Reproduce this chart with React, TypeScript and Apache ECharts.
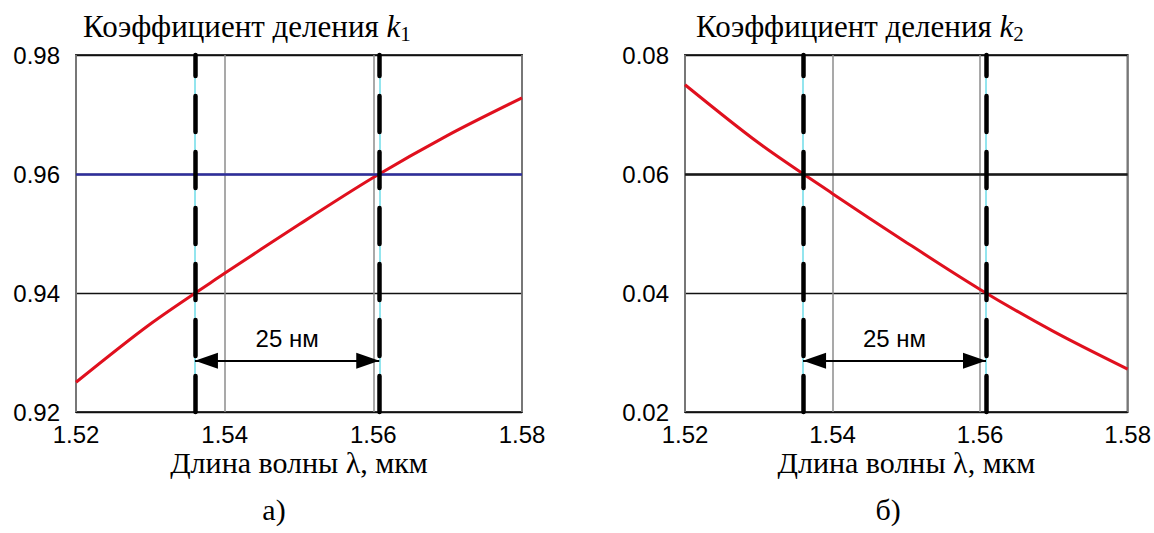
import React, { useEffect, useRef } from 'react';
import * as echarts from 'echarts';

// Wavelength grid (µm) and the two splitting coefficients
const wavelength = [1.52, 1.53, 1.54, 1.55, 1.56, 1.57, 1.58];
const k1Values = [0.925, 0.9348, 0.9433, 0.9515, 0.9594, 0.9665, 0.9728];
const k2Values = [0.075, 0.0652, 0.0567, 0.0485, 0.0406, 0.0335, 0.0272];

// Tick labels of the axes
const xTickLabels = ['1.52', '1.54', '1.56', '1.58'];
const k1TickLabels = ['0.92', '0.94', '0.96', '0.98'];
const k2TickLabels = ['0.02', '0.04', '0.06', '0.08'];

// Edges of the 25 nm working band and the highlighted levels
const bandEdges = [1.536, 1.5608];
const highlightLevels = [0.96, 0.06];
const spanArrowLevels = [0.9286, 0.0286];
const spanLabel = '25 нм';

const titles = ['1', '2'];
const panelTags = ['а)', 'б)'];
const xAxisName = 'Длина волны λ, мкм';

const SANS = "'Liberation Sans', Arial, sans-serif";
const SERIF = "'Liberation Serif', 'Times New Roman', serif";

const num = (s: string) => Number(s);
const step = (t: string[]) => Number((num(t[1]) - num(t[0])).toFixed(6));

function buildOption() {
  const gridLefts = [76, 685];
  const gridTop = 55;
  const gridW = 446;
  const gridH = 357;
  const yTicks = [k1TickLabels, k2TickLabels];
  const values = [k1Values, k2Values];
  const highlightColors = ['#2e2e9c', '#1a1a1a'];

  const grid = gridLefts.map((left) => ({
    left,
    top: gridTop,
    width: gridW,
    height: gridH,
    show: true,
    borderColor: '#3a3a3a',
    borderWidth: 2,
    backgroundColor: 'transparent',
  }));

  const xAxis = gridLefts.map((_, i) => ({
    type: 'value',
    gridIndex: i,
    min: num(xTickLabels[0]),
    max: num(xTickLabels[xTickLabels.length - 1]),
    interval: step(xTickLabels),
    axisLine: { show: false },
    axisTick: { show: false },
    axisLabel: {
      color: '#000',
      fontFamily: SANS,
      fontSize: 24,
      lineHeight: 24,
      margin: 10,
      formatter: (v: number) => v.toFixed(2),
    },
    splitLine: { show: true, lineStyle: { color: '#8c8c8c', width: 1.5 } },
    name: xAxisName,
    nameLocation: 'middle',
    nameGap: 35,
    nameMoveOverlap: false,
    nameTextStyle: { color: '#000', fontFamily: SERIF, fontSize: 30, lineHeight: 30 },
  }));

  const yAxis = gridLefts.map((_, i) => ({
    type: 'value',
    gridIndex: i,
    min: num(yTicks[i][0]),
    max: num(yTicks[i][yTicks[i].length - 1]),
    interval: step(yTicks[i]),
    axisLine: { show: false },
    axisTick: { show: false },
    axisLabel: {
      color: '#000',
      fontFamily: SANS,
      fontSize: 24,
      margin: 16,
      formatter: (v: number) => v.toFixed(2),
    },
    splitLine: { show: true, lineStyle: { color: '#111', width: 1.3 } },
  }));

  const series: any[] = [];
  gridLefts.forEach((_, i) => {
    const axes = { xAxisIndex: i, yAxisIndex: i };
    const yMin = num(yTicks[i][0]);
    const yMax = num(yTicks[i][yTicks[i].length - 1]);
    const verticals = bandEdges.map((x) => [{ coord: [x, yMin] }, { coord: [x, yMax] }]);
    // thin cyan markers of the band edges
    series.push({
      type: 'line',
      ...axes,
      data: [],
      z: 2,
      markLine: {
        silent: true,
        symbol: 'none',
        label: { show: false },
        lineStyle: { color: '#6fdde8', width: 1.5, type: 'solid' },
        data: verticals,
      },
    });
    // highlighted target level
    series.push({
      type: 'line',
      ...axes,
      data: [],
      z: 3,
      markLine: {
        silent: true,
        symbol: 'none',
        label: { show: false },
        lineStyle: { color: highlightColors[i], width: 2.5, type: 'solid' },
        data: [{ yAxis: highlightLevels[i] }],
      },
    });
    // splitting coefficient curve
    series.push({
      type: 'line',
      ...axes,
      z: 4,
      smooth: 0.3,
      showSymbol: false,
      lineStyle: { color: '#e0101e', width: 3 },
      data: wavelength.map((x, j) => [x, values[i][j]]),
    });
    // thick dashed band boundaries
    series.push({
      type: 'line',
      ...axes,
      data: [],
      z: 5,
      markLine: {
        silent: true,
        symbol: 'none',
        label: { show: false },
        lineStyle: { color: '#000', width: 4.5, type: [36, 20], cap: 'round' },
        data: verticals,
      },
    });
    // double-headed span arrow with its label
    series.push({
      type: 'line',
      ...axes,
      data: [],
      z: 6,
      markLine: {
        silent: true,
        symbol: ['triangle', 'triangle'],
        symbolSize: [16, 23],
        symbolOffset: [[0, 11.5], [0, 11.5]],
        lineStyle: { color: '#000', width: 1.8, type: 'solid' },
        label: {
          show: true,
          position: 'insideMiddleTop',
          distance: 10,
          formatter: spanLabel,
          color: '#000',
          fontFamily: SANS,
          fontSize: 24,
        },
        data: [
          [
            { coord: [bandEdges[0], spanArrowLevels[i]] },
            { coord: [bandEdges[1], spanArrowLevels[i]] },
          ],
        ],
      },
    });
  });

  const titleX = [83, 696];
  const tagX = [274, 888];
  const graphic: any[] = [];
  gridLefts.forEach((_, i) => {
    graphic.push({
      type: 'text',
      left: titleX[i],
      top: 11,
      style: {
        text: `{t|Коэффициент деления }{k|k}{s|${titles[i]}}`,
        rich: {
          t: { fontFamily: SERIF, fontSize: 31, fill: '#000', lineHeight: 36 },
          k: { fontFamily: SERIF, fontSize: 31, fontStyle: 'italic', fill: '#000', lineHeight: 36 },
          s: { fontFamily: SERIF, fontSize: 21, fill: '#000', lineHeight: 36, verticalAlign: 'bottom' },
        },
      },
    });
    graphic.push({
      type: 'text',
      x: tagX[i],
      y: 509,
      style: {
        text: panelTags[i],
        fontFamily: SERIF,
        fontSize: 30,
        fill: '#000',
        align: 'center',
        verticalAlign: 'middle',
      },
    });
  });

  return {
    animation: false,
    backgroundColor: '#fff',
    grid,
    xAxis,
    yAxis,
    series,
    graphic,
  };
}

export default function App() {
  const ref = useRef<HTMLDivElement>(null);
  useEffect(() => {
    const chart = echarts.init(ref.current!, null, { renderer: 'svg' });
    chart.setOption(buildOption() as any);
    return () => chart.dispose();
  }, []);
  return (
    <div
      ref={ref}
      style={{ position: 'absolute', left: 0, top: 0, width: 1154, height: 533 }}
    />
  );
}
